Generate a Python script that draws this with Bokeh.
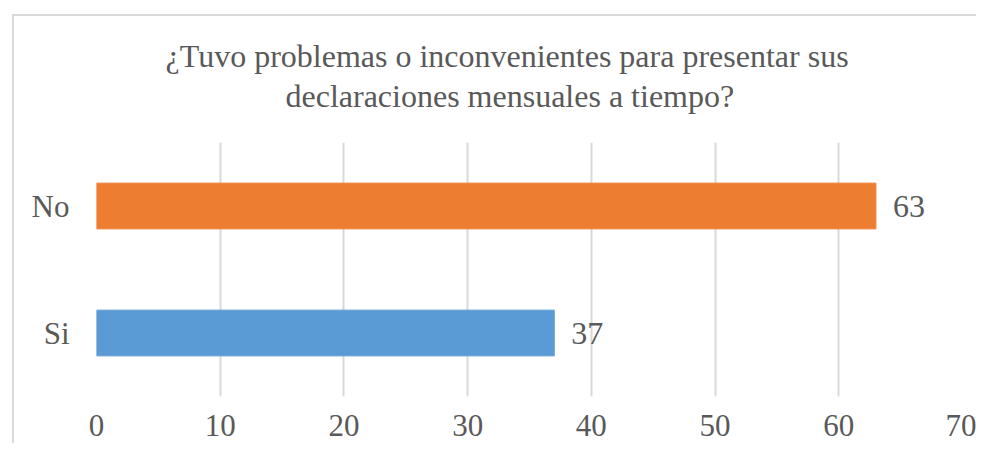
from bokeh.plotting import figure
from bokeh.models import FactorRange, Range1d, FixedTicker, Title, ColumnDataSource
from bokeh.embed import file_html
from bokeh.resources import INLINE

# ---- data ----
categories = ["Si", "No"]
values = [37, 63]
x_ticks = [0, 10, 20, 30, 40, 50, 60, 70]
title_line1 = "¿Tuvo problemas o inconvenientes para presentar sus"
title_line2 = "declaraciones mensuales a tiempo?"

bar_colors = ["#5B9BD5", "#ED7D31"]
TEXT = "#595959"
FONT = "Liberation Serif"

src = ColumnDataSource(dict(cat=categories, val=values, color=bar_colors,
                            lab=[str(v) for v in values]))

p = figure(width=976, height=443, output_backend="svg", toolbar_location=None,
           y_range=FactorRange(factors=categories, range_padding=0),
           x_range=Range1d(0, 70),
           min_border_left=96, min_border_right=14, min_border_bottom=47,
           min_border_top=142)
p.border_fill_color = None
p.styles = {"box-shadow": "inset 12px 14px 0 0 #ffffff, inset 14px 16px 0 0 #d9d9d9"}

p.hbar(y="cat", right="val", left=0, height=0.36, color="color", source=src)
p.text(x="val", y="cat", text="lab", source=src, x_offset=17,
       text_align="left", text_baseline="middle",
       text_font_size="32px", text_color=TEXT, text_font=FONT)

# title: two lines stacked above the frame, with blank spacers
p.title.visible = False
spacer_top = Title(text=" ", text_font=FONT, text_font_size="10px", standoff=10)
t1 = Title(text=title_line1, align="left", offset=69, vertical_align="bottom",
           standoff=2, text_font=FONT, text_font_size="32px",
           text_font_style="normal", text_color=TEXT)
t2 = Title(text=title_line2, align="left", offset=189, vertical_align="bottom",
           standoff=2, text_font=FONT, text_font_size="32px",
           text_font_style="normal", text_color=TEXT)
spacer_bottom = Title(text=" ", text_font=FONT, text_font_size="10px", standoff=15)
for t in (spacer_bottom, t2, t1, spacer_top):
    p.add_layout(t, "above")

p.outline_line_color = None
p.xgrid.ticker = FixedTicker(ticks=x_ticks)
p.xgrid.grid_line_color = "#d9d9d9"
p.xgrid.grid_line_width = 2
p.ygrid.grid_line_color = None

p.xaxis.ticker = FixedTicker(ticks=x_ticks)
for ax in (p.xaxis, p.yaxis):
    ax.axis_line_color = None
    ax.major_tick_line_color = None
    ax.minor_tick_line_color = None
    ax.major_label_text_font = FONT
    ax.major_label_text_font_size = "31px"
    ax.major_label_text_color = TEXT
p.xaxis.major_label_standoff = 12
p.yaxis.major_label_standoff = 21

open("out.html", "w").write(file_html(p, INLINE))
